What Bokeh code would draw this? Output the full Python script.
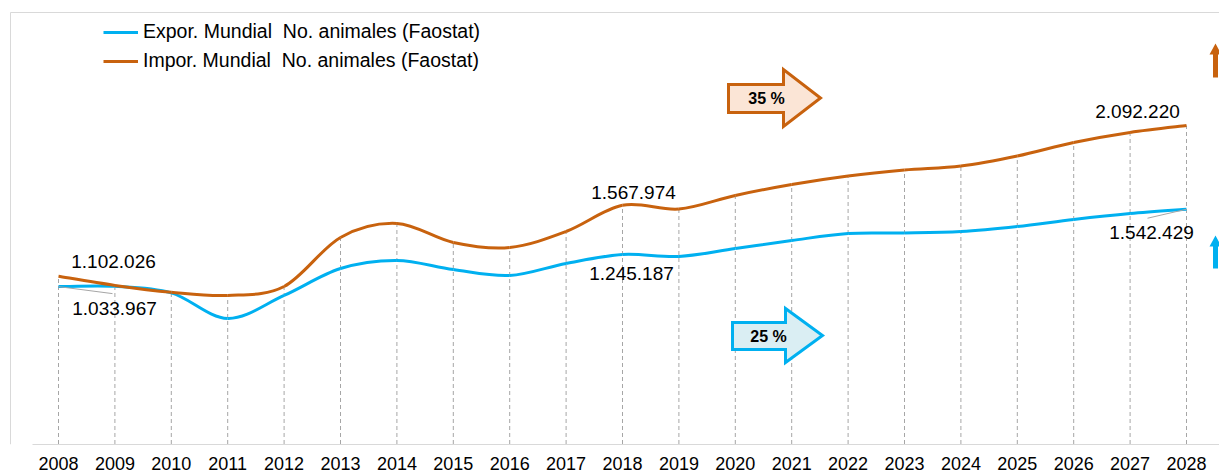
import numpy as np
from bokeh.plotting import figure
from bokeh.models import Range1d, FixedTicker, ColumnDataSource, Legend, LegendItem
from bokeh.core.properties import value
from bokeh.embed import file_html
from bokeh.resources import INLINE

# ---------------- data ----------------
years = list(range(2008, 2029))
exports = [1033967, 1036000, 993000, 825000, 976000, 1153000, 1206000, 1146000, 1107000,
           1186000, 1245187, 1232000, 1284000, 1337000, 1383000, 1386000, 1396000,
           1429000, 1475000, 1514000, 1542429]
imports = [1102026, 1042000, 997000, 976000, 1035000, 1357000, 1449000, 1324000, 1291000,
           1396000, 1567974, 1544000, 1633000, 1705000, 1761000, 1800000, 1826000,
           1892000, 1981000, 2047000, 2092220]
series_names = ["Expor. Mundial  No. animales (Faostat)",
                "Impor. Mundial  No. animales (Faostat)"]
growth_labels = ["35 %", "25 %"]

BLUE = "#00B0F0"
ORANGE = "#C8620E"
FONT = "Liberation Sans"

# ---------------- layout helpers ----------------
W, H = 1219, 476
FH = 444          # frame height (axis line position)
X0_PX = 58.0      # px of first year
PXY = 56.4        # px per year
VPP = 6570.0      # value per px
ZERO_PX = 443.5   # px of value 0


def rx(x):  # screen px -> data x
    return years[0] + (x - X0_PX) / PXY


def ry(y):  # screen px -> data y
    return (ZERO_PX - y) * VPP


p = figure(width=W, height=H, output_backend="svg", toolbar_location=None,
           x_range=Range1d(rx(0), rx(W)), y_range=Range1d(ry(FH), ry(0)),
           y_axis_location=None, min_border=0, min_border_bottom=H - FH,
           outline_line_color=None,
           background_fill_color="white", border_fill_color="white")
p.grid.visible = False

ax = p.xaxis[0]
ax.ticker = FixedTicker(ticks=years)
ax.major_tick_line_color = None
ax.minor_tick_line_color = None
ax.axis_line_color = "#D9D9D9"
ax.axis_line_width = 1
ax.bounds = (rx(32), rx(W))
ax.major_label_text_font = FONT
ax.major_label_text_font_size = "18px"
ax.major_label_text_color = "#000000"
ax.major_label_standoff = 6

# chart-area border (left and top)
p.segment(x0=[rx(10), rx(10)], y0=[ry(12), ry(12)], x1=[rx(10), rx(W)], y1=[ry(FH), ry(12)],
          line_color="#D9D9D9", line_width=1)

# drop lines
tops = [max(a, b) for a, b in zip(imports, exports)]
p.segment(x0=years, y0=[0] * len(years), x1=years, y1=tops,
          line_color="#A6A6A6", line_dash="4 3", line_width=1)


def smooth(xs, ys):
    n = len(xs)
    d = {k: [] for k in ["x0", "y0", "x1", "y1", "cx0", "cy0", "cx1", "cy1"]}
    for i in range(n - 1):
        im, i2 = max(i - 1, 0), min(i + 2, n - 1)
        d["x0"].append(xs[i]); d["y0"].append(ys[i])
        d["x1"].append(xs[i + 1]); d["y1"].append(ys[i + 1])
        d["cx0"].append(xs[i] + (xs[i + 1] - xs[im]) / 6.0)
        d["cy0"].append(ys[i] + (ys[i + 1] - ys[im]) / 6.0)
        d["cx1"].append(xs[i + 1] - (xs[i2] - xs[i]) / 6.0)
        d["cy1"].append(ys[i + 1] - (ys[i2] - ys[i]) / 6.0)
    return ColumnDataSource(d)


p.bezier(x0="x0", y0="y0", x1="x1", y1="y1", cx0="cx0", cy0="cy0", cx1="cx1", cy1="cy1",
         source=smooth(years, exports), line_color=BLUE, line_width=3)
p.bezier(x0="x0", y0="y0", x1="x1", y1="y1", cx0="cx0", cy0="cy0", cx1="cx1", cy1="cy1",
         source=smooth(years, imports), line_color=ORANGE, line_width=3)

# legend (proxy line renderers, nothing visible drawn in the plot)
r_e = p.line(x=[years[0]], y=[np.nan], line_color=BLUE, line_width=3)
r_i = p.line(x=[years[0]], y=[np.nan], line_color=ORANGE, line_width=3)
legend = Legend(items=[LegendItem(label=series_names[0], renderers=[r_e]),
                       LegendItem(label=series_names[1], renderers=[r_i])],
                location=(103, 372), orientation="vertical", glyph_width=35, glyph_height=20,
                label_height=20, label_standoff=5, spacing=6, padding=0, margin=0,
                border_line_color=None, background_fill_alpha=0,
                label_text_font=FONT, label_text_font_size="19.5px", label_text_color="#000000")
p.add_layout(legend)


def fmt(v):
    return f"{v:,}".replace(",", ".")


# data labels
lab = [(imports, 0, 55, -15), (exports, 0, 56, 22), (imports, 10, 11, -13),
       (exports, 10, 9, 19), (imports, 20, -49, -14), (exports, 20, -35, 23)]
src = ColumnDataSource(dict(
    x=[years[i] for s, i, a, b in lab], y=[s[i] for s, i, a, b in lab],
    t=[fmt(s[i]) for s, i, a, b in lab], xo=[a for s, i, a, b in lab],
    yo=[b for s, i, a, b in lab]))
p.text(x="x", y="y", text="t", x_offset="xo", y_offset="yo", source=src,
       text_font=value(FONT), text_font_size="19px", text_align="center",
       text_baseline="middle", text_color="#000000")

# leader lines
p.segment(x0=[years[0], years[-1]], y0=[exports[0], exports[-1]],
          x1=[years[0] + 54 / PXY, years[-1] - 39 / PXY],
          y1=[exports[0] - 7 * VPP, exports[-1] - 9 * VPP],
          line_color="#A6A6A6", line_width=1)


# block arrows
def right_arrow(x0, xh, xt, bt, bb, ht, hb):
    ym = (ht + hb) / 2.0
    xs = [x0, xh, xh, xt, xh, xh, x0]
    ys = [bt, bt, ht, ym, hb, bb, bb]
    return [rx(v) for v in xs], [ry(v) for v in ys]


ax1, ay1 = right_arrow(728, 783, 820, 84, 112, 69, 126)
p.patch(ax1, ay1, fill_color="#FBE5D6", line_color=ORANGE, line_width=3, line_join="miter")
ax2, ay2 = right_arrow(732, 785, 822, 322, 349, 308, 362)
p.patch(ax2, ay2, fill_color="#DAEEF3", line_color=BLUE, line_width=3, line_join="miter")
p.text(x=[rx(766), rx(768)], y=[ry(98), ry(336)], text=growth_labels,
       text_font=value(FONT), text_font_size="16px", text_font_style="bold",
       text_align="center", text_baseline="middle", text_color="#000000")


def up_arrow(cx, ytop, yhead, ybot):
    xs = [cx - 2.5, cx - 2.5, cx - 6, cx, cx + 6, cx + 2.5, cx + 2.5]
    ys = [ybot, yhead, yhead, ytop, yhead, yhead, ybot]
    return [rx(v) for v in xs], [ry(v) for v in ys]


u1x, u1y = up_arrow(1215, 43, 54, 77)
p.patch(u1x, u1y, fill_color=ORANGE, line_color=None)
u2x, u2y = up_arrow(1215, 235, 246, 268)
p.patch(u2x, u2y, fill_color=BLUE, line_color=None)

open("out.html", "w").write(file_html(p, INLINE))
